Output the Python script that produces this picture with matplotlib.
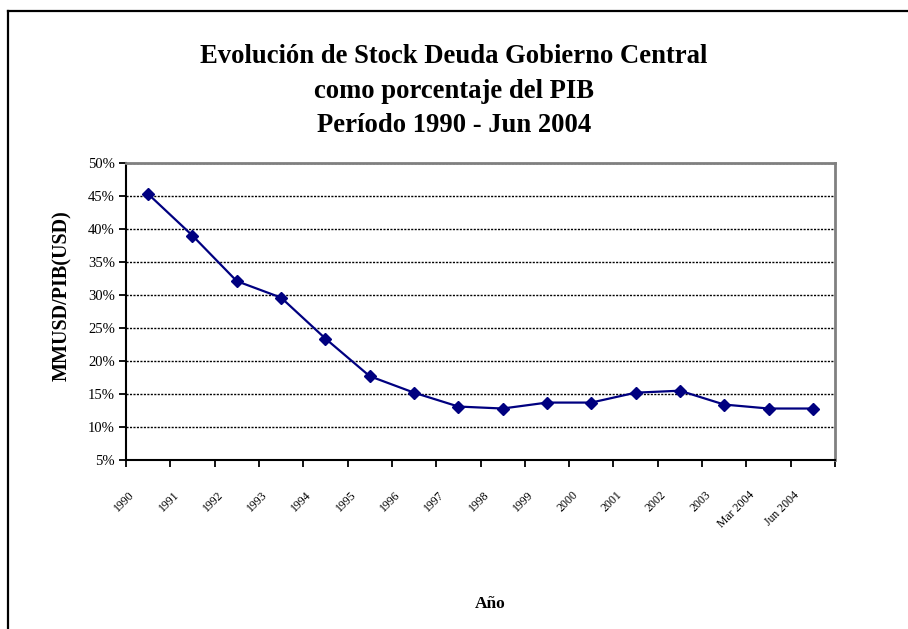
import numpy as np
import matplotlib
matplotlib.use("Agg")
import matplotlib.pyplot as plt
from matplotlib.lines import Line2D
from matplotlib.ticker import PercentFormatter

periodos = ["1990", "1991", "1992", "1993", "1994", "1995", "1996", "1997",
            "1998", "1999", "2000", "2001", "2002", "2003", "Mar 2004", "Jun 2004"]
deuda_pib = [45.3, 39.0, 32.1, 29.6, 23.4, 17.7, 15.2, 13.1,
             12.8, 13.7, 13.7, 15.2, 15.5, 13.4, 12.8, 12.8]

titulo = "Evolución de Stock Deuda Gobierno Central\ncomo porcentaje del PIB\nPeríodo 1990 - Jun 2004"

plt.rcParams['font.family'] = ['Liberation Serif', 'DejaVu Serif']

W, H = 908, 629
fig = plt.figure(figsize=(W / 100, H / 100), dpi=100)

# marco del grafico (sale por la derecha y abajo)
fig.add_artist(Line2D([8 / W, 1.0], [1 - 11 / H, 1 - 11 / H], color='black', lw=1.6,
                      transform=fig.transFigure))
fig.add_artist(Line2D([8 / W, 8 / W], [0, 1 - 11 / H], color='black', lw=1.6,
                      transform=fig.transFigure))

ax = fig.add_axes([126 / W, (H - 460) / H, (835 - 126) / W, (460 - 163) / H])

x = np.arange(len(periodos)) + 0.5
ax.plot(x, deuda_pib, color='#000080', lw=1.6, marker='D', markersize=6)

ax.set_xlim(0, len(periodos))
ax.set_ylim(5, 50)
ax.set_yticks(np.arange(5, 51, 5))
ax.yaxis.set_major_formatter(PercentFormatter(decimals=0))
ax.grid(axis='y', color='black', linestyle=(0, (1.5, 1)), lw=1)

ax.set_xticks(np.arange(len(periodos) + 1))
ax.set_xticklabels([])
ax.set_xticks(np.arange(len(periodos)) + 0.15, periodos, minor=True)
ax.tick_params(axis='x', which='minor', length=0, pad=24, labelsize=8.5)
for lab in ax.get_xticklabels(minor=True):
    lab.set_rotation(45)
    lab.set_ha('right')
    lab.set_va('center')
    lab.set_rotation_mode('anchor')

ax.tick_params(axis='x', which='major', direction='out', length=5, width=1.3)
ax.tick_params(axis='y', direction='out', length=5, width=1.3, labelsize=10.5, pad=3)

for s in ['top', 'right']:
    ax.spines[s].set_color('#808080')
    ax.spines[s].set_linewidth(2)
for s in ['left', 'bottom']:
    ax.spines[s].set_color('black')
    ax.spines[s].set_linewidth(1.5)

fig.text(62 / W, 1 - 296 / H, 'MMUSD/PIB(USD)', fontsize=14.5, fontweight='bold',
         rotation=90, ha='center', va='center')
fig.text(490 / W, 1 - 604 / H, 'Año', fontsize=12.5, fontweight='bold', ha='center', va='center')
fig.text(454 / W, 1 - 91 / H, titulo, fontsize=19.2, fontweight='bold', ha='center',
         va='center', linespacing=1.5)

fig.savefig('out.png', dpi=100)
